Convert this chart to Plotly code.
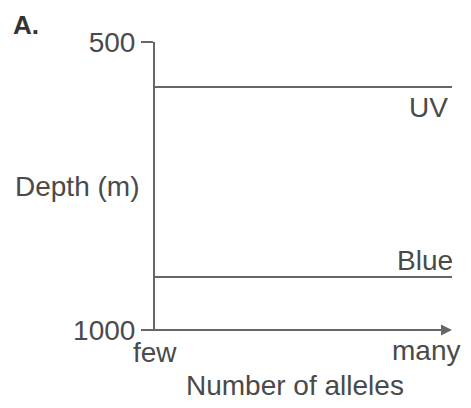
import plotly.graph_objects as go

# Data
series_names = ["UV", "Blue"]
depths = [578, 908]          # depth (m) of each horizontal line
x_span = [0, 1]              # few -> many
y_ticks = [500, 1000]
y_ticktext = ["500", "1000"]
x_labels = ["few", "many"]

TXT = "#4a4a4a"
LN = "#666666"
FONT = "Liberation Sans, Arial, sans-serif"
FS = 28

fig = go.Figure()
for name, d in zip(series_names, depths):
    fig.add_trace(go.Scatter(x=x_span, y=[d, d], mode="lines",
                             line=dict(color=LN, width=2), name=name,
                             showlegend=False, hoverinfo="skip"))
    fig.add_annotation(x=1, y=d, xref="x", yref="y", text=name,
                       showarrow=False, xanchor="right",
                       yanchor="top" if name == "UV" else "bottom",
                       xshift=-2 if name == "UV" else 3,
                       yshift=-3 if name == "UV" else -1,
                       font=dict(family=FONT, size=FS, color=TXT))

# x-axis line with arrow
fig.add_annotation(x=1, y=0, xref="paper", yref="paper", ax=-309, ay=0,
                   axref="pixel", ayref="pixel", text="", showarrow=True,
                   arrowhead=2, arrowsize=1.1, arrowwidth=2, arrowcolor=LN)

# x category labels
fig.add_annotation(x=0, y=0, xref="paper", yref="paper", text=x_labels[0],
                   showarrow=False, xanchor="center", yanchor="top", yshift=-5,
                   font=dict(family=FONT, size=FS, color=TXT))
fig.add_annotation(x=1, y=0, xref="paper", yref="paper", text=x_labels[1],
                   showarrow=False, xanchor="right", yanchor="top", yshift=-3,
                   xshift=10, font=dict(family=FONT, size=FS, color=TXT))

# axis titles
fig.add_annotation(x=0, y=0.5, xref="paper", yref="paper", text="Depth (m)",
                   showarrow=False, xanchor="right", yanchor="middle", xshift=-14,
                   font=dict(family=FONT, size=FS, color=TXT))
fig.add_annotation(x=0.471, y=0, xref="paper", yref="paper", text="Number of alleles",
                   showarrow=False, xanchor="center", yanchor="middle", yshift=-55,
                   font=dict(family=FONT, size=FS, color=TXT))

# panel label
fig.add_annotation(x=0, y=1, xref="paper", yref="paper", text="<b>A.</b>",
                   showarrow=False, xanchor="left", yanchor="top",
                   xshift=-144, yshift=34,
                   font=dict(family=FONT, size=26, color="#333333"))

fig.update_xaxes(range=[0, 1], showline=False, showgrid=False, zeroline=False,
                 showticklabels=False, ticks="")
fig.update_yaxes(range=[1000, 500], showline=True, linecolor=LN, linewidth=2,
                 showgrid=False, zeroline=False, ticks="outside", ticklen=12,
                 tickwidth=2, tickcolor=LN, tickvals=y_ticks, ticktext=y_ticktext,
                 tickfont=dict(family=FONT, size=FS, color=TXT))

fig.update_layout(width=463, height=392, margin=dict(l=147, r=19, t=34, b=70),
                  plot_bgcolor="white", paper_bgcolor="white")

fig.write_html("out.html")
